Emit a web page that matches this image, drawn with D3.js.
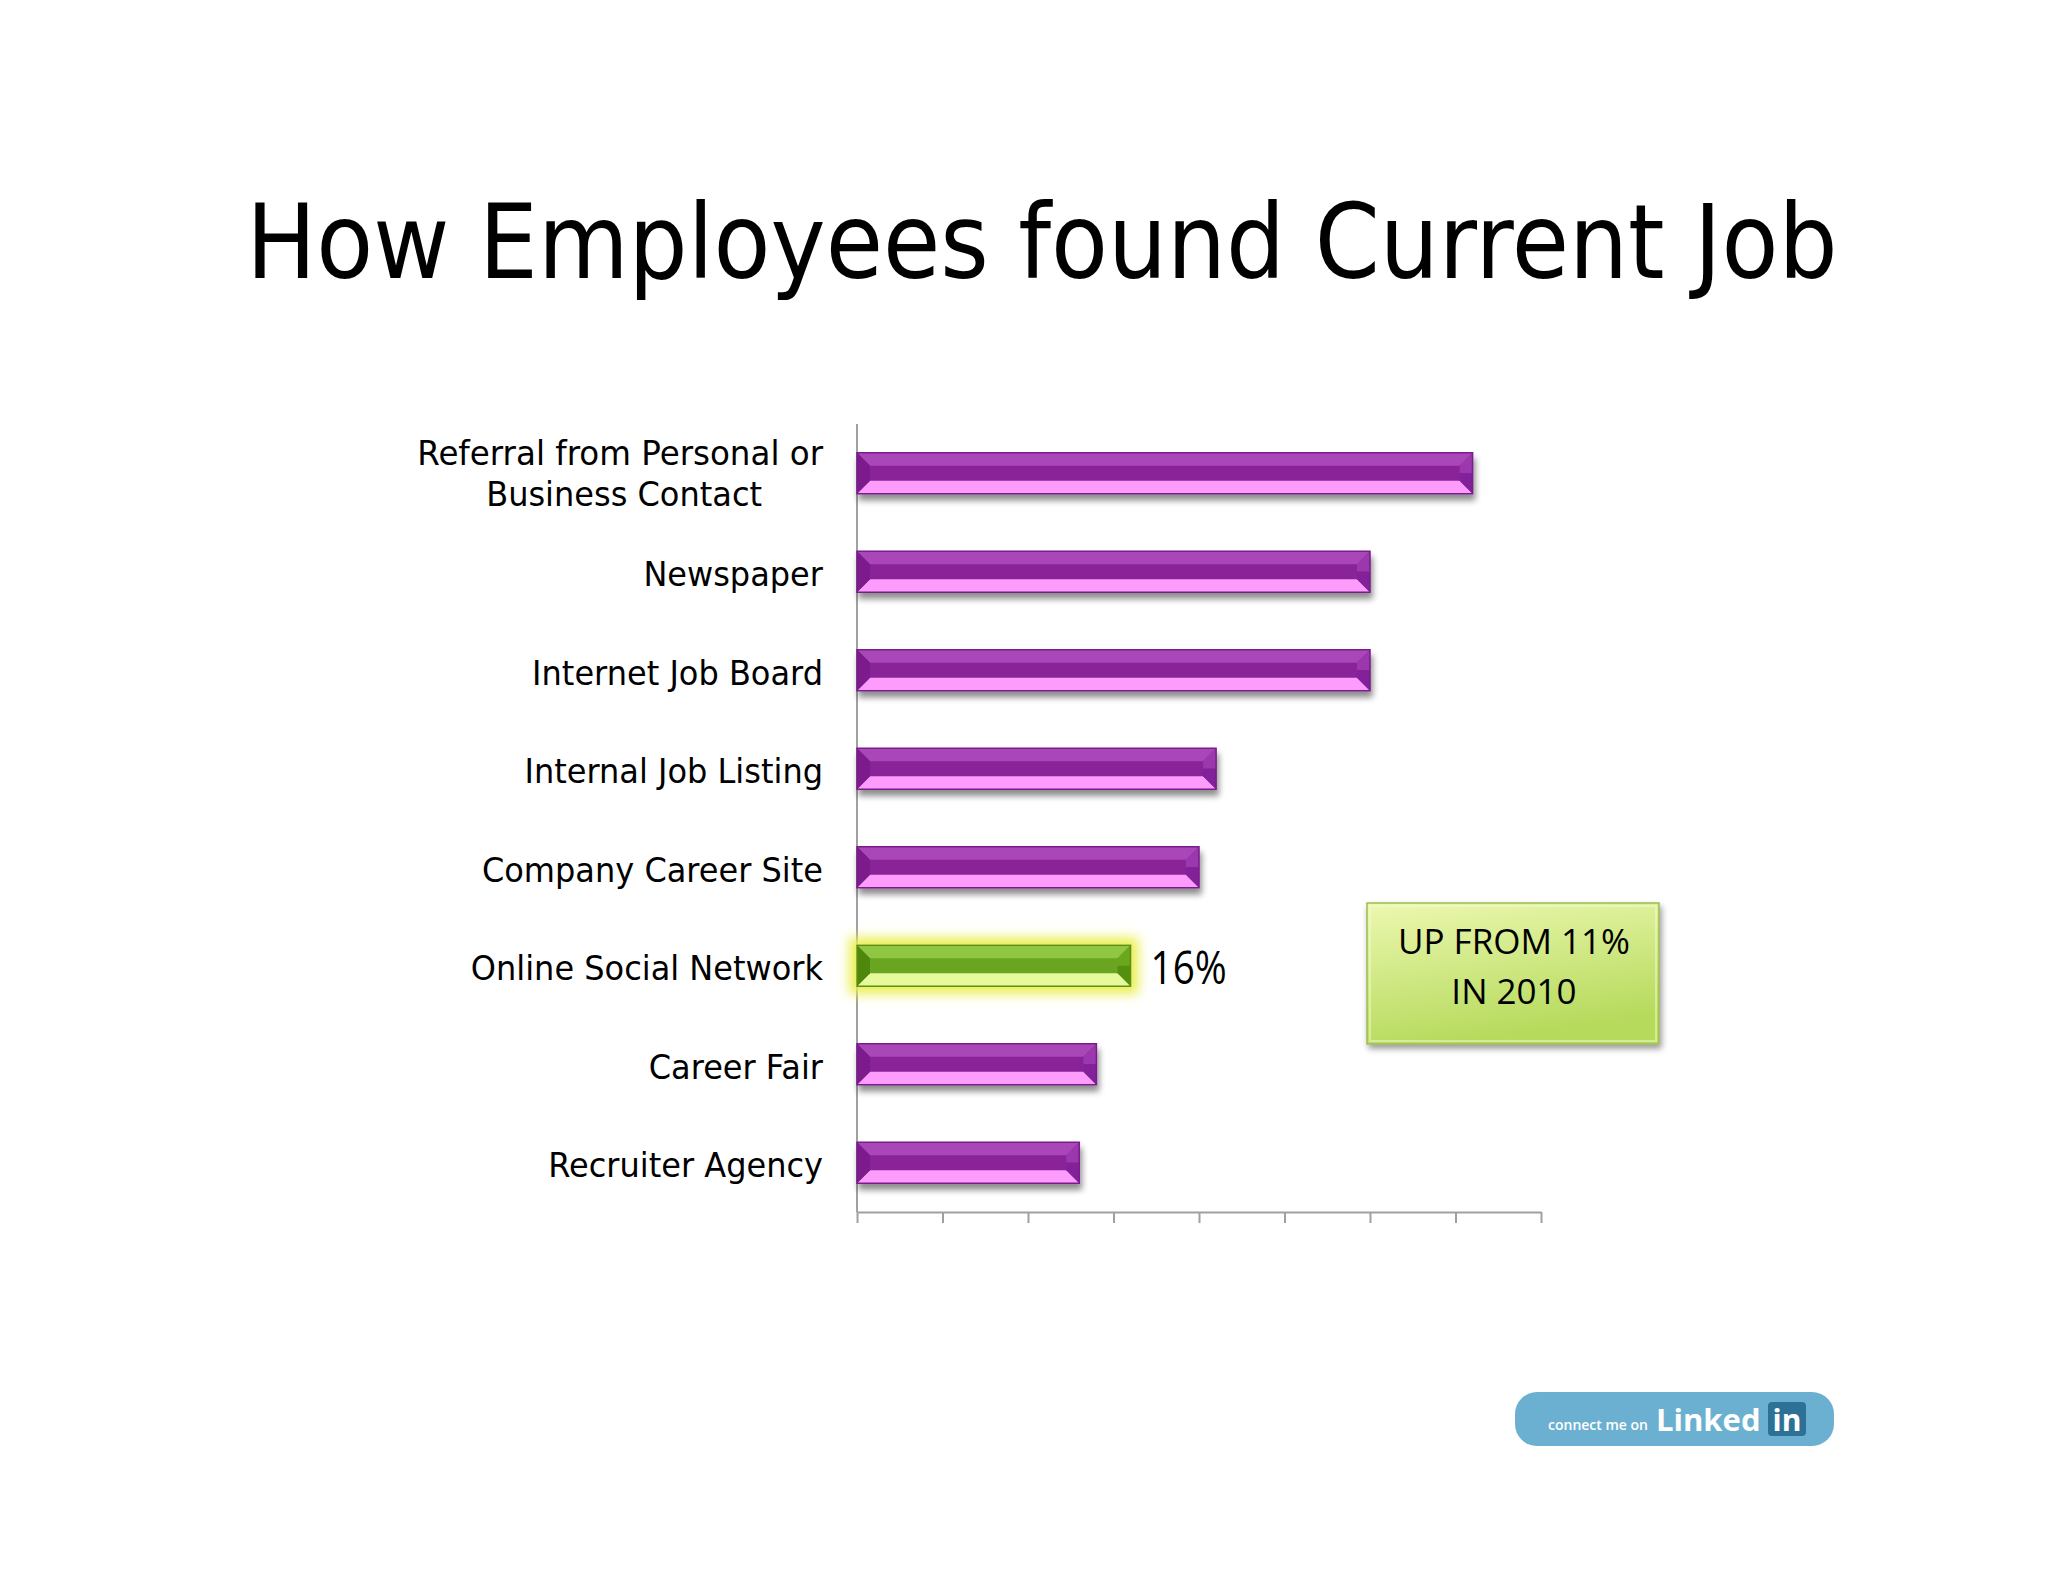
<!DOCTYPE html>
<html><head><meta charset="utf-8">
<script src="https://cdn.jsdelivr.net/npm/d3@7"></script>
<style>html,body{margin:0;padding:0;background:#fff;overflow:hidden}</style>
</head><body><svg id="chart" width="2048" height="1582"></svg>
<script>
// ---- data ----
const title = "How Employees found Current Job";
const categories = ["Referral from Personal or Business Contact","Newspaper","Internet Job Board","Internal Job Listing","Company Career Site","Online Social Network","Career Fair","Recruiter Agency"];
const categoryLines = [["Referral from Personal or","Business Contact"],["Newspaper"],["Internet Job Board"],["Internal Job Listing"],["Company Career Site"],["Online Social Network"],["Career Fair"],["Recruiter Agency"]];
const values = [36,30,30,21,20,16,14,13];
const highlightCategory = "Online Social Network";
const highlightLabel = "16%";
const noteLines = ["UP FROM 11%","IN 2010"];
const xTicks = [0,5,10,15,20,25,30,35,40];
const xDomain = [0,40];

// ---- layout ----
const svg = d3.select("#chart");
const W = 2048, H = 1582;
const defs = svg.append("defs");

// filters
const sh = defs.append("filter").attr("id","barShadow").attr("x","-5%").attr("y","-40%").attr("width","115%").attr("height","200%");
sh.append("feGaussianBlur").attr("in","SourceAlpha").attr("stdDeviation",3).attr("result","b");
sh.append("feOffset").attr("in","b").attr("dx",2).attr("dy",6).attr("result","o");
sh.append("feComponentTransfer").attr("in","o").attr("result","oa").append("feFuncA").attr("type","linear").attr("slope",0.45);
const shm = sh.append("feMerge"); shm.append("feMergeNode").attr("in","oa"); shm.append("feMergeNode").attr("in","SourceGraphic");

const gl = defs.append("filter").attr("id","glow").attr("x","-10%").attr("y","-100%").attr("width","120%").attr("height","300%");
gl.append("feMorphology").attr("in","SourceAlpha").attr("operator","dilate").attr("radius",7).attr("result","d");
gl.append("feGaussianBlur").attr("in","d").attr("stdDeviation",6).attr("result","db");
gl.append("feFlood").attr("flood-color","#eaef50").attr("flood-opacity",1).attr("result","f");
gl.append("feComposite").attr("in","f").attr("in2","db").attr("operator","in").attr("result","g");
const glm = gl.append("feMerge"); glm.append("feMergeNode").attr("in","g"); glm.append("feMergeNode").attr("in","SourceGraphic");

const bs = defs.append("filter").attr("id","boxShadow").attr("x","-10%").attr("y","-10%").attr("width","125%").attr("height","130%");
bs.append("feGaussianBlur").attr("in","SourceAlpha").attr("stdDeviation",3).attr("result","b");
bs.append("feOffset").attr("in","b").attr("dx",2).attr("dy",4).attr("result","o");
bs.append("feComponentTransfer").attr("in","o").attr("result","oa").append("feFuncA").attr("type","linear").attr("slope",0.4);
const bsm = bs.append("feMerge"); bsm.append("feMergeNode").attr("in","oa"); bsm.append("feMergeNode").attr("in","SourceGraphic");

const boxGrad = defs.append("linearGradient").attr("id","boxGrad").attr("x1","0").attr("y1","0").attr("x2","0.3").attr("y2","1");
boxGrad.append("stop").attr("offset","0%").attr("stop-color","#ecf8b0");
boxGrad.append("stop").attr("offset","100%").attr("stop-color","#b6da5c");

svg.append("rect").attr("width",W).attr("height",H).attr("fill","#ffffff");

function condense(sel, k){
  sel.each(function(){
    const w = this.getComputedTextLength();
    d3.select(this).attr("textLength", w*k).attr("lengthAdjust","spacingAndGlyphs");
  });
}

// title
const t = svg.append("text").text(title)
  .attr("x",1042).attr("y",278).attr("text-anchor","middle")
  .attr("font-family","DejaVu Sans").attr("font-size",103).attr("fill","#000");
condense(t, 0.904);

// scales
const x = d3.scaleLinear().domain(xDomain).range([857,1541]);
const y = d3.scaleBand().domain(categories).range([424,1212]).paddingInner(0.584).paddingOuter(0.292);
const bw = y.bandwidth();
const bev = 13;

// axes
svg.append("line").attr("x1",x(0)).attr("x2",x(0)).attr("y1",424).attr("y2",1212)
  .attr("stroke","#a0a0a0").attr("stroke-width",2);
const xAxis = svg.append("g").attr("transform","translate(0,1212)")
  .call(d3.axisBottom(x).tickValues(xTicks).tickFormat("").tickSize(11).tickSizeOuter(0));
xAxis.select(".domain").attr("stroke","#a0a0a0").attr("stroke-width",2);
xAxis.selectAll(".tick line").attr("stroke","#a0a0a0").attr("stroke-width",2);

// bars
const purple = {top:"#a947b8", mid:"#8a2398", bot:"#fd9cfd", left:"#7c1b8c", rightT:"#9c37ad", rightB:"#82209a", stroke:"#7a1e8a"};
const green  = {top:"#8fc742", mid:"#6aa520", bot:"#e6fa9c", left:"#4d880e", rightT:"#6aa71f", rightB:"#53900f", stroke:"#5a8f1a"};

const data = categories.map((c,i)=>({c, v:values[i], lines:categoryLines[i]}));
const bars = svg.append("g").selectAll("g.bar").data(data).join("g").attr("class","bar")
  .attr("filter", d => d.c===highlightCategory ? "url(#glow)" : "url(#barShadow)");

bars.each(function(d){
  const g = d3.select(this);
  const col = d.c===highlightCategory ? green : purple;
  const x0 = x(0), x1 = x(d.v), y0 = y(d.c), y1 = y0 + bw;
  const ym = y0 + bw/2;
  const poly = (pts, fill) => g.append("polygon").attr("points", pts.map(p=>p.join(",")).join(" ")).attr("fill", fill);
  poly([[x0,y0],[x1,y0],[x1,y1],[x0,y1]], col.mid);
  poly([[x0,y0],[x1,y0],[x1-bev,y0+bev],[x0+bev,y0+bev]], col.top);
  poly([[x0,y1],[x1,y1],[x1-bev,y1-bev],[x0+bev,y1-bev]], col.bot);
  poly([[x0,y0],[x0+bev,y0+bev],[x0+bev,y1-bev],[x0,y1]], col.left);
  poly([[x1,y0],[x1-bev,y0+bev],[x1-bev,ym],[x1,ym]], col.rightT);
  poly([[x1,ym],[x1-bev,ym],[x1-bev,y1-bev],[x1,y1]], col.rightB);
  g.append("rect").attr("x",x0).attr("y",y0).attr("width",x1-x0).attr("height",bw)
    .attr("fill","none").attr("stroke",col.stroke).attr("stroke-width",1.5);
});

// category labels
const labels = svg.append("g").attr("font-family","DejaVu Sans").attr("font-size",33).attr("fill","#000");
data.forEach(d=>{
  const cy = y(d.c) + bw/2;
  if (d.lines.length === 1){
    const tx = labels.append("text").text(d.lines[0]).attr("x",823).attr("y",cy+14.5).attr("text-anchor","end");
    condense(tx, 0.97);
  } else {
    const t1 = labels.append("text").text(d.lines[0]).attr("x",823).attr("y",cy-8).attr("text-anchor","end");
    condense(t1, 0.985);
    const w1 = +t1.attr("textLength");
    const t2 = labels.append("text").text(d.lines[1]).attr("x",823 - w1/2 + 4).attr("y",cy+33).attr("text-anchor","middle");
    condense(t2, 0.97);
  }
});

// highlight value label
const hIdx = categories.indexOf(highlightCategory);
const hl = svg.append("text").text(highlightLabel)
  .attr("x", x(values[hIdx]) + 20).attr("y", y(highlightCategory) + bw/2 + 18)
  .attr("font-family","Open Sans").attr("font-size",46).attr("fill","#000");
condense(hl, 0.84);

// note box
const nb = svg.append("g").attr("filter","url(#boxShadow)");
nb.append("rect").attr("x",1367).attr("y",903).attr("width",292).attr("height",141)
  .attr("fill","url(#boxGrad)").attr("stroke","#9cbc55").attr("stroke-width",1.5);
nb.append("rect").attr("x",1370).attr("y",906).attr("width",286).attr("height",135)
  .attr("fill","none").attr("stroke","#f4fbd0").attr("stroke-opacity",0.5).attr("stroke-width",2);
noteLines.forEach((ln,i)=>{
  svg.append("text").text(ln).attr("x",1514).attr("y",954 + i*49.5).attr("text-anchor","middle")
    .attr("font-family","Open Sans").attr("font-size",35).attr("fill","#000");
});

// LinkedIn badge
const li = svg.append("g");
li.append("rect").attr("x",1515).attr("y",1392).attr("width",319).attr("height",54).attr("rx",22).attr("ry",22)
  .attr("fill","#6cb0d1");
li.append("text").text("connect me on").attr("x",1548).attr("y",1430).attr("font-family","Open Sans")
  .attr("font-weight",600).attr("font-size",14).attr("fill","#ffffff");
li.append("text").text("Linked").attr("x",1656).attr("y",1431).attr("font-family","Open Sans")
  .attr("font-weight",700).attr("font-size",31).attr("fill","#ffffff");
li.append("rect").attr("x",1768).attr("y",1402).attr("width",38).attr("height",34).attr("rx",4)
  .attr("fill","#2e7197");
li.append("text").text("in").attr("x",1787).attr("y",1431).attr("text-anchor","middle").attr("font-family","Open Sans")
  .attr("font-weight",700).attr("font-size",30).attr("fill","#ffffff");
</script></body></html>
